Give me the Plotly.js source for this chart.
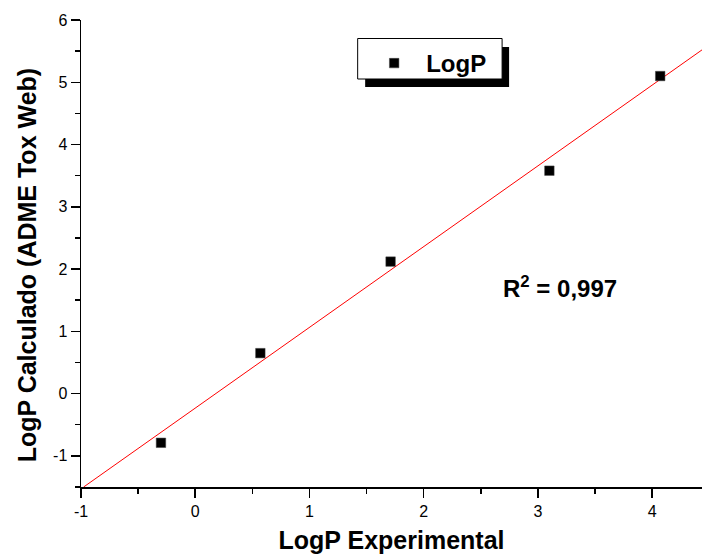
<!DOCTYPE html>
<html>
<head>
<meta charset="utf-8">
<script src="https://cdn.plot.ly/plotly-3.0.1.min.js"></script>
<style>html,body{margin:0;padding:0;background:#fff;}#chart{width:702px;height:556px;}</style>
</head>
<body>
<div id="chart"></div>
<script>
// Data
const logPExperimental = [-0.30, 0.57, 1.71, 3.10, 4.07];
const logPCalculado = [-0.79, 0.65, 2.12, 3.58, 5.10];
const fitX = [-0.977, 4.436];
const fitY = [-1.50, 5.52];
const seriesName = 'LogP';
const xTickVals = [-1, 0, 1, 2, 3, 4];
const yTickVals = [-1, 0, 1, 2, 3, 4, 5, 6];
const r2Label = 'R<sup>2</sup> = 0,997';
const xTitle = 'LogP Experimental';
const yTitle = 'LogP Calculado (ADME Tox Web)';

const FONT = 'Arial, "Liberation Sans", Helvetica, sans-serif';

const traces = [
  {
    x: fitX, y: fitY, mode: 'lines', type: 'scatter',
    line: {color: '#ff0000', width: 1}, showlegend: false, hoverinfo: 'skip'
  },
  {
    x: logPExperimental, y: logPCalculado, mode: 'markers', type: 'scatter',
    name: '<b>' + seriesName + '</b>',
    marker: {symbol: 'square', size: 9.5, color: '#000', line: {color: '#444', width: 0.5}}
  }
];

// pixel helpers for layout-only items
const L = 80.7, R = 702, T = 20, B = 487;
const px2paperX = p => (p - L) / (R - L);
const px2paperY = p => (B - p) / (B - T);

const layout = {
  width: 702, height: 556,
  margin: {l: 80.7, r: 0, t: 20, b: 69},
  paper_bgcolor: '#fff', plot_bgcolor: 'rgba(0,0,0,0)',
  font: {family: FONT, color: '#000'},
  showlegend: true,
  xaxis: {
    range: [-1, 4.436], tickvals: xTickVals, ticktext: xTickVals.map(String),
    showgrid: false, zeroline: false, showline: true, linecolor: '#000', linewidth: 1.5,
    ticks: 'outside', ticklen: 9, tickwidth: 1.5, tickcolor: '#000',
    minor: {dtick: 0.5, tick0: -1, ticks: 'outside', ticklen: 5, tickwidth: 1.5, tickcolor: '#000', showgrid: false},
    tickfont: {size: 16, family: FONT},
    title: {text: '<b>' + xTitle + '</b>', font: {size: 25, family: FONT}, standoff: 13},
    automargin: false, fixedrange: true
  },
  yaxis: {
    range: [-1.5, 6], tickvals: yTickVals, ticktext: yTickVals.map(String),
    showgrid: false, zeroline: false, showline: true, linecolor: '#000', linewidth: 1.5,
    ticks: 'outside', ticklen: 9, tickwidth: 1.5, tickcolor: '#000',
    minor: {dtick: 0.5, tick0: -1.5, ticks: 'outside', ticklen: 5, tickwidth: 1.5, tickcolor: '#000', showgrid: false},
    tickfont: {size: 16, family: FONT},
    automargin: false, fixedrange: true
  },
  legend: {
    x: px2paperX(362), y: px2paperY(41), xanchor: 'left', yanchor: 'top',
    bgcolor: 'rgba(0,0,0,0)', borderwidth: 0, itemwidth: 54,
    font: {size: 24, family: FONT}
  },
  shapes: [
    {type: 'rect', xref: 'paper', yref: 'paper', layer: 'above',
     x0: px2paperX(365), x1: px2paperX(509), y0: px2paperY(47), y1: px2paperY(87),
     fillcolor: '#000', line: {width: 0}},
    {type: 'rect', xref: 'paper', yref: 'paper', layer: 'above',
     x0: px2paperX(357.5), x1: px2paperX(502), y0: px2paperY(38.5), y1: px2paperY(79),
     fillcolor: '#fff', line: {color: '#000', width: 1}}
  ],
  annotations: [
    {x: 3.19, y: 1.72, xref: 'x', yref: 'y', text: '<b>' + r2Label + '</b>', showarrow: false,
     font: {size: 24, family: FONT}, xanchor: 'center', yanchor: 'middle'},
    {x: px2paperX(27), y: px2paperY(265), xref: 'paper', yref: 'paper', text: '<b>' + yTitle + '</b>',
     showarrow: false, textangle: -90, font: {size: 25, family: FONT}, xanchor: 'center', yanchor: 'middle'}
  ]
};

Plotly.newPlot('chart', traces, layout, {staticPlot: true, displayModeBar: false});
</script>
</body>
</html>
